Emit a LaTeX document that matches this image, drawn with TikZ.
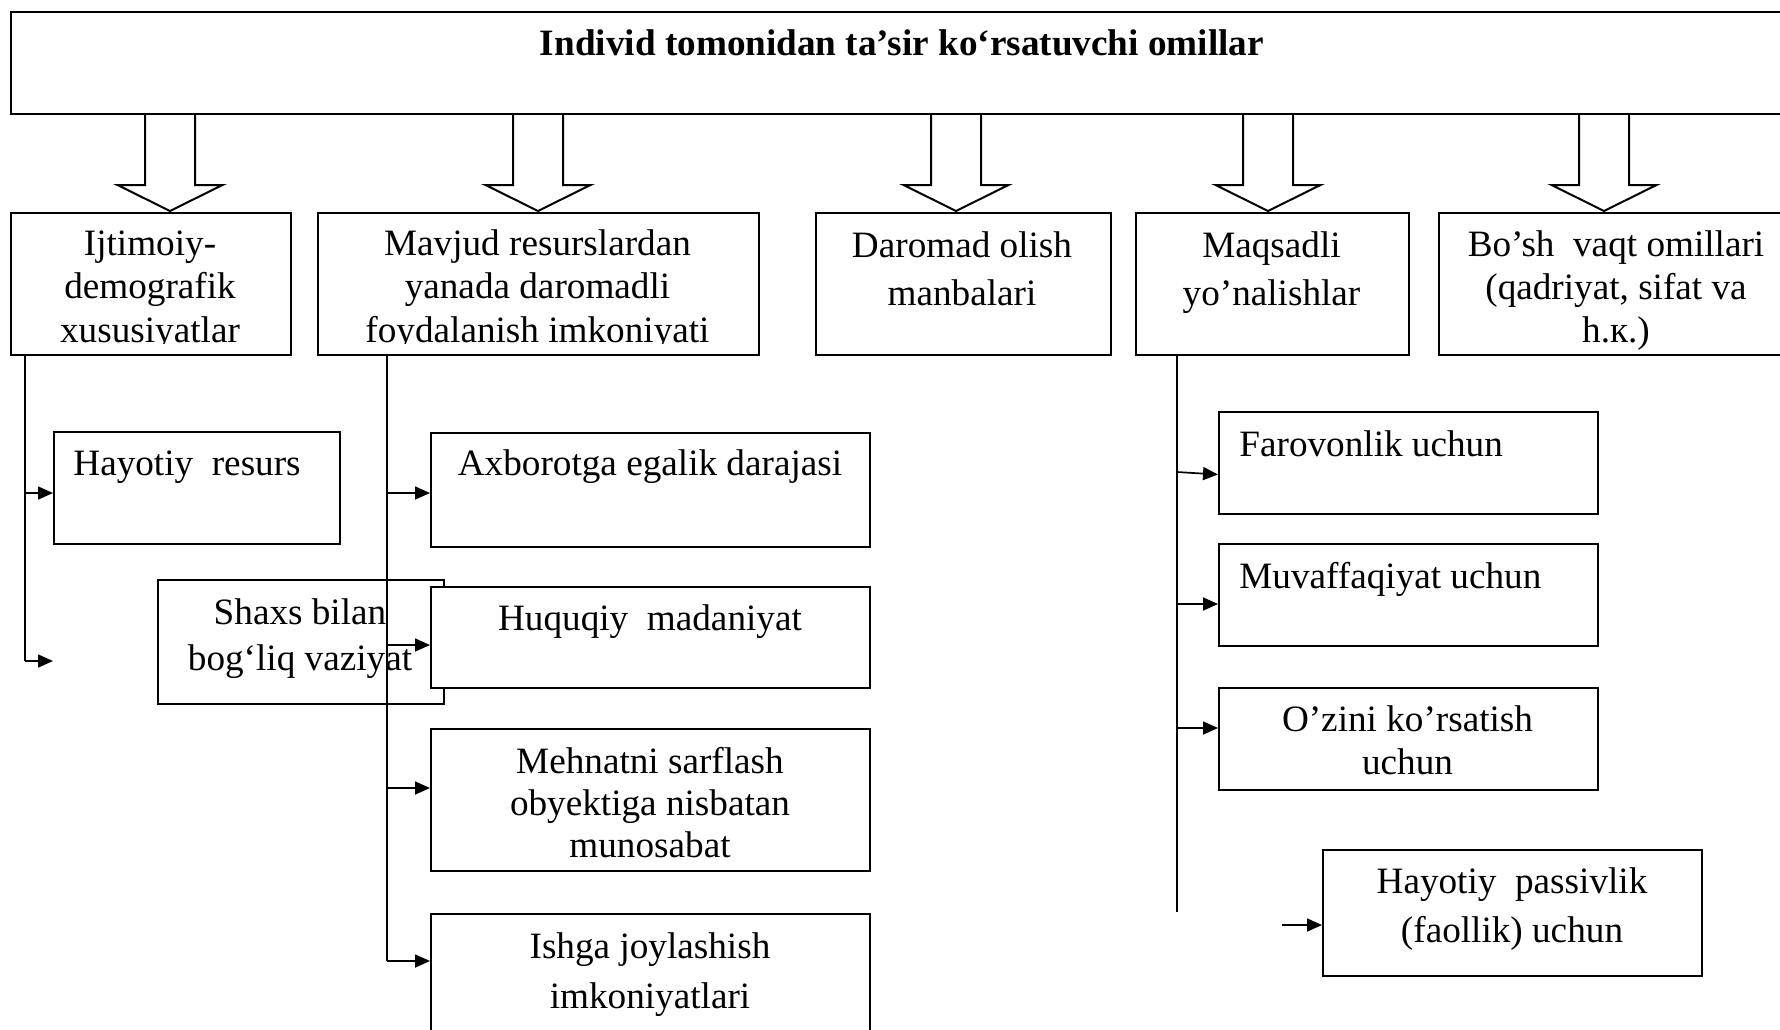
\documentclass[tikz,border=0pt]{standalone}
\usepackage{fontspec}
\setmainfont{Liberation Serif}
\usetikzlibrary{arrows.meta}
\begin{document}
\begin{tikzpicture}[x=0.5pt,y=-0.5pt,
  box/.style={draw, line width=1.2pt, anchor=north west, inner sep=0pt, fill=white},
  openbox/.style={draw, line width=1.2pt, anchor=north west, inner sep=0pt},
  % multi-line labels: the base anchor sits on the last line
  txt/.style={font=\fontsize{18.6pt}{21.6pt}\selectfont, align=center, inner sep=0pt, anchor=base},
  ltxt/.style={font=\fontsize{18.6pt}{21.6pt}\selectfont, inner sep=0pt, anchor=base west},
  sp/.style={font=\fontsize{18.6pt}{#1}\selectfont},
  conn/.style={line width=0.85pt},
  tip/.style={conn, -{Triangle[length=7.5pt,width=6.5pt]}},
  down/.pic={\draw[line width=1pt, line join=miter]
    (-25,0) -- (-25,72) -- (-52.5,72) -- (0,98) -- (52.5,72) -- (25,72) -- (25,0);}
]
\useasboundingbox (0,0) rectangle (1780,1029);
\clip (0,0) rectangle (1780,1029);

% heading box
\node[box, minimum width=892.5pt, minimum height=51pt] (top) at (10,11) {};
\node[txt, font=\fontsize{18.6pt}{21.6pt}\selectfont\bfseries] (title) at (902,55)
  {Individ tomonidan ta’sir ko‘rsatuvchi omillar};

% block arrows from the heading
\pic at (170,113) {down};
\pic at (538,113) {down};
\pic at (956,113) {down};
\pic at (1268,113) {down};
\pic at (1604,113) {down};

% second row
\node[box, minimum width=140pt, minimum height=71pt] (b1) at (10,212) {};
\node[box, minimum width=220.5pt, minimum height=71pt] (b2) at (317,212) {};
\node[box, minimum width=147.5pt, minimum height=71pt] (b3) at (815,212) {};
\node[box, minimum width=136.5pt, minimum height=71pt] (b4) at (1135,212) {};
\node[box, minimum width=178.5pt, minimum height=71pt] (b5) at (1438,212) {};

% the two left labels are cut off at the bottom of their text frames
\begin{scope}
  \clip (10,212) rectangle (758,343.5);
  \node[txt] (b1t) at (150,342) {Ijtimoiy-\\demografik\\xususiyatlar};
  \node[txt] (b2t) at (537.5,342) {Mavjud resurslardan\\yanada daromadli\\foydalanish imkoniyati};
\end{scope}
\node[txt, sp=24pt] (b3t) at (962,305) {Daromad olish\\manbalari};
\node[txt, sp=24pt] (b4t) at (1271.5,305) {Maqsadli\\yo’nalishlar};
\node[txt, sp=21.3pt] (b5t) at (1616,342) {Bo’sh\ \ vaqt omillari\\(qadriyat, sifat va\\h.к.)};

% left branch
\node[box, minimum width=143pt, minimum height=56pt] (hr) at (53,431) {};
\node[ltxt] (hrt) at (73,475) {Hayotiy\ \ resurs};
\node[openbox, minimum width=143pt, minimum height=62pt] (sx) at (157,579) {};
\node[txt, sp=23pt] (sxt) at (300,670) {Shaxs bilan\\bog‘liq vaziyat};

\coordinate (lt) at (25,354);
\coordinate (lb) at (25,661);
\coordinate (lend) at (53,661);
\draw[conn] (lt) -- (lb);
\draw[tip] (lt |- 0,493) -- (hr.west |- 0,493);
\draw[tip] (lb) -- (lend);

% middle branch
\coordinate (mt) at (387,354);
\coordinate (mb) at (387,961);
\draw[conn] (mt) -- (mb);

\node[box, minimum width=219.5pt, minimum height=57pt] (ax) at (430,432) {};
\node[txt] (axt) at (650,475) {Axborotga egalik darajasi};
\node[box, minimum width=219.5pt, minimum height=50.5pt] (hq) at (430,586) {};
\node[txt] (hqt) at (650,630) {Huquqiy\ \ madaniyat};
\node[box, minimum width=219.5pt, minimum height=71pt] (me) at (430,728) {};
\node[txt, sp=21pt] (met) at (650,857) {Mehnatni sarflash\\obyektiga nisbatan\\munosabat};
\node[box, minimum width=219.5pt, minimum height=63.5pt] (ish) at (430,913) {};
\node[txt, sp=25pt] (isht) at (650,1008) {Ishga joylashish\\imkoniyatlari};

\draw[tip] (mt |- 0,493) -- (ax.west |- 0,493);
\draw[tip] (mt |- 0,645) -- (hq.west |- 0,645);
\draw[tip] (mt |- 0,788) -- (me.west |- 0,788);
\draw[tip] (mb) -- (ish.west |- mb);

% right branch
\node[box, minimum width=189.5pt, minimum height=51pt] (far) at (1218,411) {};
\node[ltxt] (fart) at (1239,456) {Farovonlik uchun};
\node[box, minimum width=189.5pt, minimum height=51pt] (muv) at (1218,543) {};
\node[ltxt] (muvt) at (1239,588) {Muvaffaqiyat uchun};
\node[box, minimum width=189.5pt, minimum height=51pt] (ozi) at (1218,687) {};
\node[txt, sp=21.5pt] (ozit) at (1407.5,774) {O’zini ko’rsatish\\uchun};
\node[box, minimum width=189.5pt, minimum height=63pt] (hp) at (1322,849) {};
\node[txt, sp=24.5pt] (hpt) at (1512,942) {Hayotiy\ \ passivlik\\(faollik) uchun};

\coordinate (rt) at (1177,354);
\coordinate (rb) at (1177,912);
\coordinate (hpin) at (1282,925);
\draw[conn] (rt) -- (rb);
\draw[tip] (rt |- 0,472) -- (far.west |- 0,474.5);
\draw[tip] (rt |- 0,604) -- (muv.west |- 0,604);
\draw[tip] (rt |- 0,728) -- (ozi.west |- 0,728);
\draw[tip] (hpin) -- (hp.west |- hpin);
\end{tikzpicture}
\end{document}
